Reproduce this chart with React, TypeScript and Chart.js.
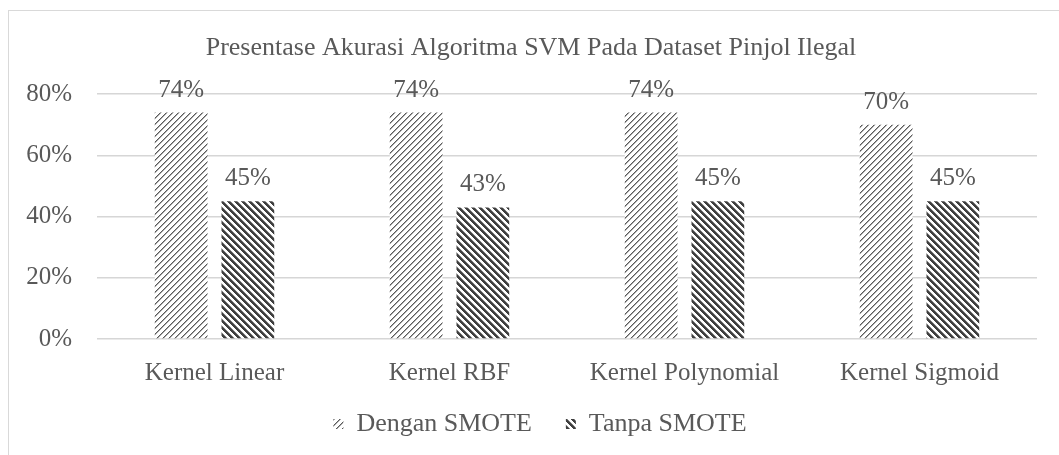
import React, { useEffect, useRef } from "react";
import { Chart, registerables } from "chart.js";

Chart.register(...registerables);

const categories = ["Kernel Linear", "Kernel RBF", "Kernel Polynomial", "Kernel Sigmoid"];
const denganSmote = [74, 74, 74, 70];
const tanpaSmote = [45, 43, 45, 45];
const seriesNames = ["Dengan SMOTE", "Tanpa SMOTE"];
const yTicks = [0, 20, 40, 60, 80];
const titleText = "Presentase Akurasi Algoritma SVM Pada Dataset Pinjol Ilegal";

const FONT = "'Liberation Serif', 'Times New Roman', serif";
const TEXT = "#595959";

function makePattern(kind: "up" | "down"): CanvasPattern | string {
  const size = kind === "up" ? 6 : 7;
  const c = document.createElement("canvas");
  c.width = size;
  c.height = size;
  const ctx = c.getContext("2d");
  if (!ctx) return "#777";
  ctx.fillStyle = "#ffffff";
  ctx.fillRect(0, 0, size, size);
  for (let y = 0; y < size; y++) {
    for (let x = 0; x < size; x++) {
      if (kind === "up") {
        const m = (x + y) % size;
        if (m === 0) { ctx.fillStyle = "#5a5a5a"; ctx.fillRect(x, y, 1, 1); }
        else if (m === 1) { ctx.fillStyle = "#a8a8a8"; ctx.fillRect(x, y, 1, 1); }
      } else {
        const m = (((x - y) % size) + size) % size;
        if (m < 3) { ctx.fillStyle = "#3f3f3f"; ctx.fillRect(x, y, 1, 1); }
        else if (m === 3) { ctx.fillStyle = "#8a8a8a"; ctx.fillRect(x, y, 1, 1); }
      }
    }
  }
  const p = ctx.createPattern(c, "repeat");
  return p || "#777";
}

const valueLabels = {
  id: "valueLabels",
  afterDatasetsDraw(chart: any) {
    const ctx = chart.ctx;
    ctx.save();
    ctx.font = `25px ${FONT}`;
    ctx.fillStyle = TEXT;
    ctx.textAlign = "center";
    ctx.textBaseline = "alphabetic";
    chart.data.datasets.forEach((ds: any, di: number) => {
      const meta = chart.getDatasetMeta(di);
      meta.data.forEach((bar: any, i: number) => {
        ctx.fillText(`${ds.data[i]}%`, bar.x, bar.y - 16);
      });
    });
    ctx.restore();
  },
};

const legendShift = {
  id: "legendShift",
  afterLayout(chart: any) {
    const lg = chart.legend;
    if (!lg) return;
    lg.top -= 12;
    lg.bottom -= 12;
    lg.left += 9;
    lg.right += 9;
  },
};

export default function App() {
  const ref = useRef<HTMLCanvasElement | null>(null);
  useEffect(() => {
    if (!ref.current) return;
    const chart = new Chart(ref.current, {
      type: "bar",
      data: {
        labels: categories,
        datasets: [
          {
            label: seriesNames[0],
            data: denganSmote,
            backgroundColor: makePattern("up") as any,
            borderWidth: 0,
            categoryPercentage: 0.568,
            barPercentage: 0.79,
          },
          {
            label: seriesNames[1],
            data: tanpaSmote,
            backgroundColor: makePattern("down") as any,
            borderWidth: 0,
            categoryPercentage: 0.568,
            barPercentage: 0.79,
          },
        ],
      },
      options: {
        responsive: false,
        animation: false,
        layout: { padding: { left: 16, right: 26, top: 0, bottom: 2 } },
        plugins: {
          title: {
            display: true,
            text: titleText,
            color: TEXT,
            font: { family: FONT, size: 26, weight: "normal" },
            padding: { top: 22, bottom: 30 },
          },
          legend: {
            position: "bottom",
            labels: {
              boxWidth: 10,
              boxHeight: 10,
              padding: 34,
              color: TEXT,
              font: { family: FONT, size: 26 },
            },
          },
          tooltip: { enabled: false },
        },
        scales: {
          x: {
            grid: { display: false, drawTicks: false },
            border: { display: false },
            ticks: { color: TEXT, font: { family: FONT, size: 25 }, padding: 19 },
            afterFit: (s: any) => { s.height = 50; },
          },
          y: {
            min: 0,
            max: 80,
            afterBuildTicks: (s: any) => { s.ticks = yTicks.map((v) => ({ value: v })); },
            ticks: {
              color: TEXT,
              font: { family: FONT, size: 25 },
              padding: 25,
              callback: (v: any) => `${v}%`,
            },
            grid: { color: "#d6d6d6", lineWidth: 1.5, drawTicks: false },
            border: { display: false },
            afterFit: (s: any) => { s.width = 72; },
          },
        },
      },
      plugins: [valueLabels, legendShift],
    });
    return () => chart.destroy();
  }, []);

  return (
    <div style={{ position: "fixed", left: 0, top: 0, width: "100vw", height: "100vh", overflow: "hidden", background: "#fff" }}>
      <div
        style={{
          position: "absolute",
          left: 8,
          top: 10,
          width: 1060,
          height: 470,
          border: "1px solid #d9d9d9",
          boxSizing: "border-box",
        }}
      >
        <canvas ref={ref} width={1054} height={450} style={{ display: "block" }} />
      </div>
    </div>
  );
}
